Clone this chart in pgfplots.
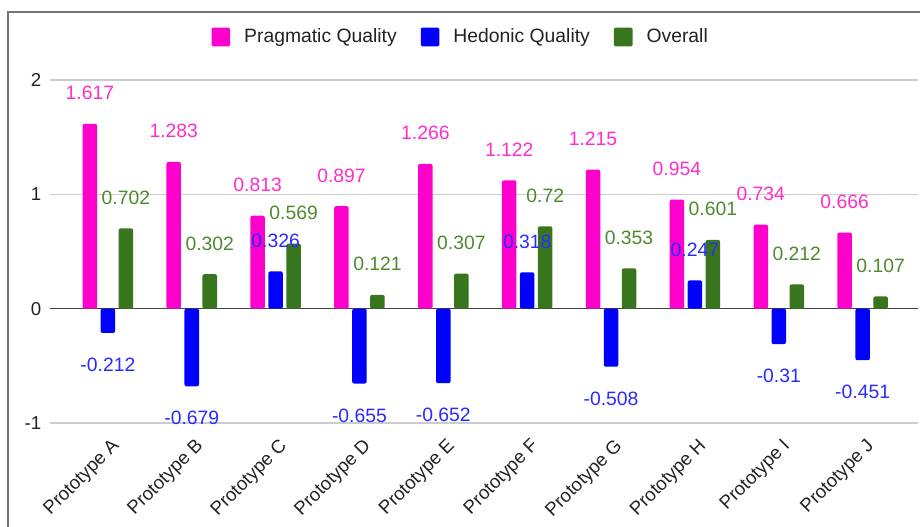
\documentclass[border=0pt]{standalone}
\usepackage{fontspec}
\setmainfont{Liberation Sans}
\usepackage{pgfplots}
\pgfplotsset{compat=1.18}

\definecolor{pq}{HTML}{FF00CC}
\definecolor{hq}{HTML}{0000FF}
\definecolor{ov}{HTML}{38761D}
\definecolor{pqlab}{HTML}{FF2ECB}
\definecolor{hqlab}{HTML}{2A2AFF}
\definecolor{ovlab}{HTML}{4E8A2E}
\definecolor{gridc}{HTML}{CCCCCC}
\definecolor{framec}{HTML}{757575}
\definecolor{txt}{HTML}{222222}

\pgfplotsset{
  sq/.style={legend image code/.code={\fill[##1, rounded corners=1pt] (0pt,-7pt) rectangle (14pt,7pt);}},
}

\begin{document}
\begin{tikzpicture}[x=1pt,y=1pt]
\useasboundingbox (-37.5,-78) rectangle (652.5,317.25);
% outer chart frame (only top and left are in view)
\draw[framec, line width=1.5pt] (-31.5,-78) -- (-31.5,308.6) -- (652.5,308.6);
\begin{axis}[
    at={(0,0)}, anchor=south west,
    scale only axis,
    width=651pt, height=257.25pt,
    ymin=-1, ymax=2,
    xmin=-0.69, xmax=9.66,
    ybar=2.6pt, bar width=10.9pt,
    axis line style={draw=none},
    major tick length=0pt,
    ytick={-1,0,1,2},
    ymajorgrids,
    major grid style={gridc, line width=0.8pt},
    extra y ticks={0}, extra y tick labels={},
    extra y tick style={major grid style={txt!85, line width=1.1pt}},
    xtick={0,...,9},
    xticklabels={Prototype A,Prototype B,Prototype C,Prototype D,Prototype E,Prototype F,Prototype G,Prototype H,Prototype I,Prototype J},
    xticklabel style={font=\fontsize{14}{16}\selectfont, text=txt, xshift=9pt, yshift=-13pt, rotate=45, anchor=east},
    yticklabel style={font=\fontsize{14}{16}\selectfont, text=txt, xshift=-3pt},
    /pgf/number format/assume math mode=true,
    clip=false,
    nodes near coords,
    point meta=explicit symbolic,
    visualization depends on={rawy \as \ry},
    every node near coord/.append style={font=\fontsize{14.5}{16}\selectfont, anchor=center, yshift={\ry>0 ? 23 : -24}},
    legend columns=-1,
    legend style={draw=none, fill=none, at={(0.4735,1.1254)}, anchor=center,
        font=\fontsize{14.5}{16}\selectfont, text=txt,
        /tikz/every odd column/.style={column sep=8.5pt},
        /tikz/every even column/.style={column sep=16pt}},
    every axis plot/.append style={draw=none, rounded corners=1.5pt},
]
\addplot[fill=pq, sq, every node near coord/.append style={text=pqlab}] coordinates {
    (0,1.617) [1.617]
    (1,1.283) [1.283]
    (2,0.813) [0.813]
    (3,0.897) [0.897]
    (4,1.266) [1.266]
    (5,1.122) [1.122]
    (6,1.215) [1.215]
    (7,0.954) [0.954]
    (8,0.734) [0.734]
    (9,0.666) [0.666]
};
\addplot[fill=hq, sq, every node near coord/.append style={text=hqlab}] coordinates {
    (0,-0.212) [-0.212]
    (1,-0.679) [-0.679]
    (2,0.326) [0.326]
    (3,-0.655) [-0.655]
    (4,-0.652) [-0.652]
    (5,0.318) [0.318]
    (6,-0.508) [-0.508]
    (7,0.247) [0.247]
    (8,-0.31) [-0.31]
    (9,-0.451) [-0.451]
};
\addplot[fill=ov, sq, every node near coord/.append style={text=ovlab}] coordinates {
    (0,0.702) [0.702]
    (1,0.302) [0.302]
    (2,0.569) [0.569]
    (3,0.121) [0.121]
    (4,0.307) [0.307]
    (5,0.72) [0.72]
    (6,0.353) [0.353]
    (7,0.601) [0.601]
    (8,0.212) [0.212]
    (9,0.107) [0.107]
};
\legend{Pragmatic Quality, Hedonic Quality, Overall}
\end{axis}
\end{tikzpicture}
\end{document}
